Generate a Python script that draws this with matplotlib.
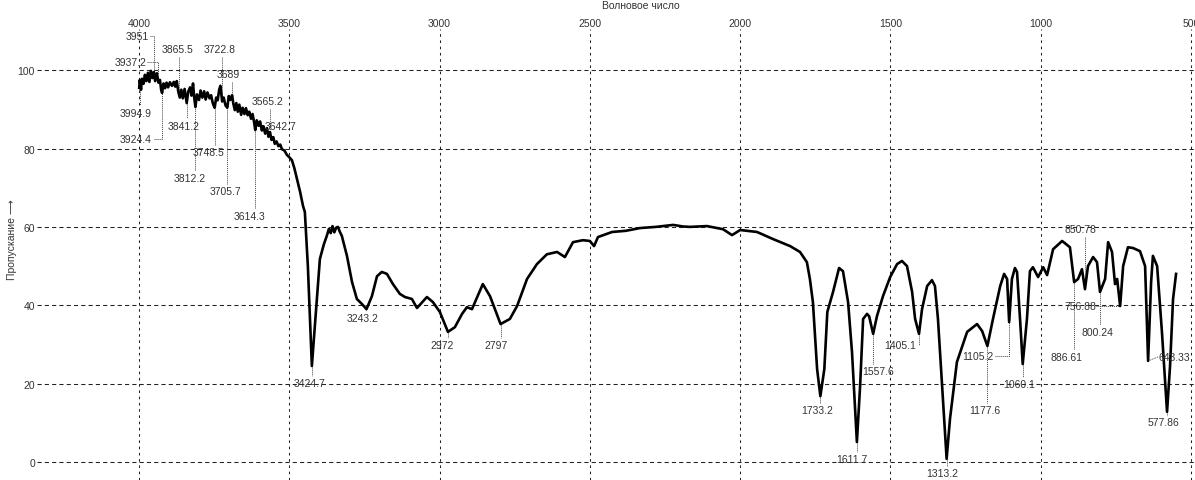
import matplotlib
matplotlib.use("Agg")
import matplotlib.pyplot as plt

plt.rcParams['font.family'] = ['Liberation Sans', 'DejaVu Sans']

# IR spectrum: wavenumber (1/cm) and transmittance (%)
wavenumber = [
    3999, 3997, 3993, 3990, 3985, 3980, 3975, 3970, 3965, 3960, 3955, 3950,
    3946, 3940, 3935, 3930, 3926, 3923, 3918, 3913, 3908, 3903, 3897, 3890,
    3884, 3879, 3874, 3869, 3864, 3859, 3854, 3848, 3841, 3836, 3830, 3825,
    3820, 3816, 3812, 3807, 3800, 3795, 3789, 3783, 3778, 3772, 3765, 3760,
    3754, 3748, 3743, 3738, 3733, 3729, 3723, 3718, 3712, 3706, 3701, 3696,
    3690, 3686, 3681, 3676, 3671, 3666, 3660, 3655, 3649, 3644, 3638, 3633,
    3627, 3622, 3617, 3613, 3608, 3602, 3597, 3591, 3586, 3580, 3574, 3569,
    3564, 3559, 3553, 3548, 3542, 3536, 3530, 3524, 3516, 3508, 3500, 3491,
    3483, 3474, 3464, 3454, 3448, 3438, 3424.7, 3408, 3398, 3385, 3375, 3368,
    3362, 3356, 3350, 3344, 3338, 3332, 3325, 3308, 3291, 3275, 3258, 3243,
    3225, 3208, 3192, 3175, 3155, 3132, 3115, 3092, 3075, 3042, 3022, 2999,
    2972, 2949, 2925, 2909, 2892, 2882, 2856, 2832, 2797, 2766, 2742, 2709,
    2676, 2643, 2609, 2583, 2556, 2523, 2500, 2486, 2473, 2426, 2380, 2333,
    2280, 2223, 2190, 2167, 2110, 2057, 2027, 2000, 1944, 1891, 1834, 1801,
    1778, 1768, 1758, 1744, 1733.2, 1720, 1710, 1691, 1671, 1658, 1641, 1628,
    1611.7, 1601, 1591, 1578, 1571, 1557.6, 1545, 1525, 1501, 1478, 1462, 1445,
    1428, 1418, 1405.1, 1395, 1378, 1362, 1352, 1342, 1325, 1313.2, 1302, 1279,
    1245, 1212, 1195, 1177.6, 1159, 1135, 1122, 1112, 1105.2, 1096, 1086, 1079,
    1069, 1060.1, 1046, 1036, 1026, 1009, 992, 979, 959, 929, 903, 889,
    876, 863, 853, 843, 826, 813, 803, 786, 776, 763, 753, 746,
    736, 726, 710, 693, 670, 653, 643, 633, 627, 613, 597, 580,
    570, 560, 550,
]
transmittance = [
    95.5, 97.5, 95.0, 97.8, 96.5, 98.8, 97.2, 99.3, 97.0, 99.8, 98.0, 99.5,
    97.2, 99.2, 96.8, 97.5, 95.0, 94.2, 96.6, 95.4, 96.8, 95.6, 96.9, 96.0,
    97.0, 95.8, 97.2, 94.5, 93.0, 95.0, 92.8, 95.2, 91.6, 94.5, 95.6, 93.5,
    96.6, 93.0, 90.6, 93.8, 92.4, 94.8, 93.0, 94.6, 92.5, 94.3, 92.8, 93.6,
    91.5, 90.4, 93.0, 92.3, 95.0, 96.0, 92.0, 93.0, 91.0, 90.4, 93.4, 92.4,
    93.6, 91.5, 89.8, 91.6, 89.4, 91.2, 88.6, 90.4, 88.8, 90.3, 88.5, 89.4,
    87.6, 88.8, 86.8, 84.7, 87.2, 85.8, 86.9, 84.6, 85.7, 83.8, 85.2, 83.0,
    84.2, 82.2, 82.9, 81.2, 81.8, 80.6, 81.0, 79.8, 79.5, 78.4, 77.8, 77.0,
    75.0, 72.2, 69.0, 65.3, 63.8, 50.0, 24.5, 41.6, 51.8, 55.5, 57.7, 59.5,
    58.4, 60.2, 58.6, 59.8, 60.0, 58.8, 57.7, 52.6, 45.9, 41.6, 40.3, 39.0,
    42.3, 47.4, 48.5, 48.0, 45.4, 42.9, 42.1, 41.6, 39.3, 42.1, 40.8, 38.3,
    33.2, 34.4, 37.8, 39.5, 39.0, 40.8, 45.4, 42.3, 35.2, 36.5, 39.8, 46.7,
    50.5, 53.0, 53.6, 52.3, 56.1, 56.6, 56.4, 55.1, 57.4, 58.7, 59.0, 59.7,
    60.0, 60.5, 60.1, 60.0, 60.2, 59.4, 57.9, 59.2, 58.7, 56.9, 55.1, 53.6,
    51.0, 46.7, 40.8, 23.7, 16.8, 23.7, 38.3, 43.4, 49.5, 48.7, 40.8, 28.1,
    5.1, 19.4, 36.5, 37.8, 37.2, 32.7, 37.2, 42.3, 47.2, 50.5, 51.3, 50.0,
    43.4, 36.5, 32.7, 39.0, 44.9, 46.4, 44.9, 36.5, 15.3, 0.8, 11.0, 25.5,
    33.2, 35.2, 33.4, 29.6, 36.5, 44.9, 48.0, 46.7, 35.7, 46.7, 49.5, 48.5,
    36.5, 25.0, 36.5, 48.7, 49.7, 47.2, 49.7, 47.7, 54.3, 56.4, 54.8, 45.9,
    46.7, 49.2, 44.1, 50.0, 52.3, 51.0, 43.4, 46.7, 56.1, 53.6, 45.4, 46.7,
    39.8, 50.0, 54.8, 54.6, 53.8, 50.0, 25.8, 45.9, 52.6, 50.0, 33.2, 12.8,
    24.5, 41.6, 48.0,
]

x_ticks = [4000, 3500, 3000, 2500, 2000, 1500, 1000, 500]
y_ticks = [0, 20, 40, 60, 80, 100]

# peak labels: text, text position, dotted leader (x list, y list)
peak_labels = [
    ("3951", 4005, 108.7, [3963, 3951, 3951], [108.7, 108.7, 99.5]),
    ("3937.2", 4027, 102.0, [3972, 3937.2, 3937.2], [102.0, 102.0, 99.0]),
    ("3865.5", 3870, 105.4, [3865.5, 3865.5], [103.3, 94.0]),
    ("3722.8", 3730, 105.4, [3722.8, 3722.8], [103.3, 92.0]),
    ("3689", 3704, 99.0, [3689, 3689], [97.0, 92.0]),
    ("3565.2", 3571, 92.1, [3565.2, 3565.2], [90.0, 83.8]),
    ("3642.7", 3583, 85.7, [3601, 3585], [85.7, 85.7]),
    ("3994.9", 4010, 89.0, [3994.9, 3994.9], [96.0, 91.0]),
    ("3924.4", 4010, 82.4, [3949, 3924.4, 3924.4], [82.4, 82.4, 94.2]),
    ("3841.2", 3850, 85.7, [3841.2, 3841.2], [91.6, 87.7]),
    ("3748.5", 3770, 79.1, [3748.5, 3748.5], [81.0, 90.4]),
    ("3812.2", 3830, 72.5, [3812.2, 3812.2], [74.4, 90.6]),
    ("3705.7", 3711, 69.1, [3705.7, 3705.7], [71.0, 90.4]),
    ("3614.3", 3631, 62.8, [3614.3, 3614.3], [64.7, 84.7]),
    ("3424.7", 3431, 20.2, [3424.7, 3424.7], [24.5, 22.0]),
    ("3243.2", 3255, 36.7, [3243.2, 3243.2], [39.0, 38.5]),
    ("2972", 2992, 29.8, [2972, 2972], [33.2, 31.6]),
    ("2797", 2812, 29.8, [2797, 2797], [35.2, 31.6]),
    ("1733.2", 1744, 13.3, [1733.2, 1733.2], [16.8, 15.0]),
    ("1611.7", 1628, 0.8, [1611.7, 1611.7], [5.1, 2.6]),
    ("1557.6", 1541, 23.2, [1557.6, 1557.6], [32.7, 25.0]),
    ("1405.1", 1468, 29.8, [1405.1, 1405.1], [32.7, 29.8]),
    ("1313.2", 1328, -2.8, [1313.2, 1313.2], [0.8, -1.0]),
    ("1105.2", 1209, 27.0, [1152, 1105.2, 1105.2], [27.0, 27.0, 35.7]),
    ("1177.6", 1185, 13.3, [1177.6, 1177.6], [29.6, 15.0]),
    ("1060.1", 1072, 19.9, [1060.1, 1060.1], [25.0, 21.8]),
    ("850.78", 869, 59.4, [853, 853], [57.5, 44.1]),
    ("756.88", 869, 39.8, [816, 736], [39.8, 39.8]),
    ("800.24", 813, 33.2, [803, 803], [43.4, 35.0]),
    ("886.61", 913, 26.8, [889, 889], [45.9, 28.8]),
    ("643.33", 608, 26.8, [643, 610], [25.8, 26.8]),
    ("577.86", 593, 10.2, [580, 580], [12.8, 11.8]),
]
left_aligned = {"643.33", "3642.7"}

fig = plt.figure(figsize=(11.95, 4.81), dpi=100)
ax = fig.add_axes([37 / 1195, 0, 1 - 37 / 1195, 1 - 30 / 481])

ax.set_xlim(4339, 487)
ax.set_ylim(-4.6, 110.5)

for s in ax.spines.values():
    s.set_visible(False)

ax.set_xticks(x_ticks)
ax.set_yticks(y_ticks)
ax.tick_params(axis='x', length=0, pad=1, labeltop=True, labelbottom=False,
               labelsize=7.5, labelcolor='#333333')
ax.tick_params(axis='y', length=0, pad=1.5, labelsize=7.5, labelcolor='#333333')

for y in y_ticks:
    ax.axhline(y, color='#222222', lw=0.75, ls=(0, (4, 3)), zorder=1)
for x in x_ticks:
    ax.axvline(x, color='#222222', lw=0.75, ls=(0, (2.5, 3.5)), zorder=1)

ax.plot(wavenumber, transmittance, color='black', lw=1.9, zorder=3,
        solid_joinstyle='round')

for text, tx, ty, lx, ly in peak_labels:
    ax.plot(lx, ly, color='#444444', lw=0.7, ls=(0, (1, 1)), zorder=2,
            clip_on=False)
    ha = 'left' if text in left_aligned else 'center'
    ax.text(tx, ty, text, fontsize=7.5, color='#333333', ha=ha, va='center',
            zorder=4, clip_on=False)

fig.text(641 / 1195, 1 - 6 / 481, "Волновое число", fontsize=7.5,
         color='#333333', ha='center', va='center')
fig.text(12 / 1195, 1 - 240 / 481, "Пропускание \u27f6", fontsize=7.5,
         color='#333333', ha='center', va='center', rotation=90)

fig.savefig("out.png", dpi=100)
